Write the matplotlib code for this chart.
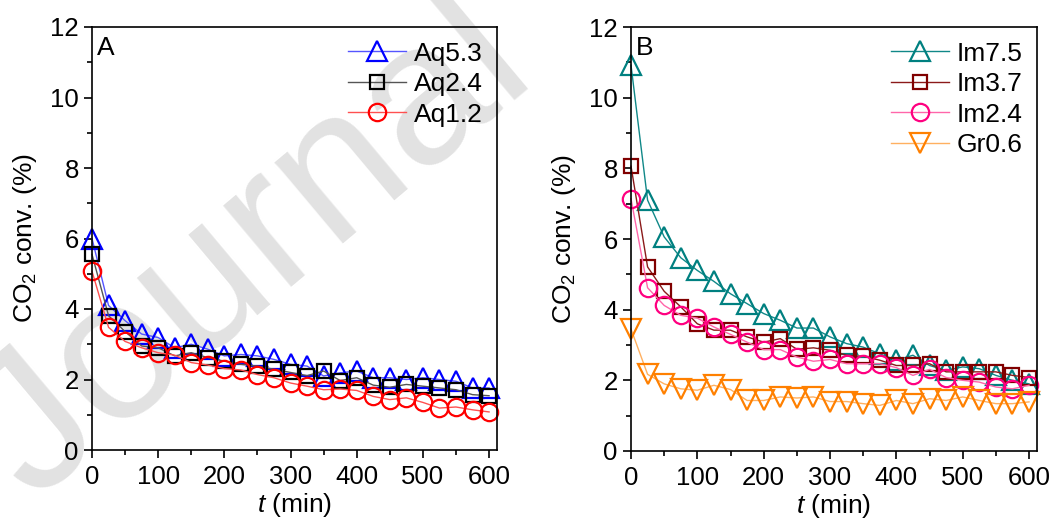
import matplotlib
matplotlib.use("Agg")
import matplotlib.pyplot as plt
from matplotlib.ticker import MultipleLocator

plt.rcParams['font.family'] = ['Liberation Sans', 'DejaVu Sans']
plt.rcParams['mathtext.fontset'] = 'custom'
plt.rcParams['mathtext.rm'] = 'Liberation Sans'
plt.rcParams['mathtext.it'] = 'Liberation Sans:italic'

t = [0, 25, 50, 75, 100, 125, 150, 175, 200, 225, 250, 275, 300,
     325, 350, 375, 400, 425, 450, 475, 500, 525, 550, 575, 600]

# panel A
aq53 = [6.0, 4.1, 3.67, 3.29, 3.19, 2.9, 3.0, 2.86, 2.67, 2.71, 2.67, 2.57, 2.43,
        2.38, 2.1, 2.19, 2.24, 2.05, 2.05, 2.0, 2.05, 2.0, 1.95, 1.76, 1.76]
aq24 = [5.55, 3.81, 3.36, 2.95, 2.9, 2.67, 2.76, 2.62, 2.52, 2.43, 2.38, 2.29, 2.2,
        2.11, 2.24, 1.97, 2.05, 1.84, 1.78, 1.86, 1.81, 1.76, 1.71, 1.57, 1.54]
aq12 = [5.07, 3.48, 3.08, 2.9, 2.76, 2.69, 2.48, 2.41, 2.31, 2.27, 2.14, 2.05, 1.9,
        1.81, 1.71, 1.73, 1.69, 1.52, 1.43, 1.48, 1.35, 1.19, 1.22, 1.14, 1.08]

# panel B
im75 = [10.92, 7.1, 6.06, 5.47, 5.11, 4.8, 4.45, 4.17, 3.89, 3.7, 3.48, 3.48, 3.23,
        3.04, 2.94, 2.75, 2.57, 2.71, 2.42, 2.28, 2.38, 2.33, 2.14, 2.0, 1.9]
im37 = [8.06, 5.21, 4.52, 4.08, 3.6, 3.42, 3.42, 3.23, 3.08, 3.18, 2.88, 2.92, 2.85,
        2.71, 2.68, 2.57, 2.42, 2.42, 2.47, 2.24, 2.24, 2.24, 2.24, 2.14, 2.08]
im24 = [7.14, 4.62, 4.12, 3.84, 3.76, 3.51, 3.3, 3.08, 2.87, 2.87, 2.66, 2.54, 2.59,
        2.47, 2.47, 2.47, 2.36, 2.14, 2.31, 2.08, 2.0, 1.95, 1.81, 1.76, 1.86]
gr06 = [3.45, 2.17, 1.9, 1.76, 1.72, 1.86, 1.74, 1.43, 1.43, 1.53, 1.5, 1.53, 1.4,
        1.4, 1.34, 1.29, 1.43, 1.34, 1.48, 1.43, 1.53, 1.43, 1.34, 1.34, 1.39]

fig = plt.figure(figsize=(10.54, 5.2), dpi=100)
ax1 = fig.add_axes([92/1054, 1-450/520, 405/1054, 423/520])
ax2 = fig.add_axes([631/1054, 1-451/520, 406/1054, 424/520])

# watermark
fig.text(0.24, 0.52, "Journal", fontsize=145, color='#e2e2e2', rotation=40,
         ha='center', va='center', zorder=-1)

def style(ax, label):
    ax.set_facecolor('none')
    ax.set_xlim(0, 612)
    ax.set_ylim(0, 12)
    ax.xaxis.set_major_locator(MultipleLocator(100))
    ax.xaxis.set_minor_locator(MultipleLocator(50))
    ax.yaxis.set_major_locator(MultipleLocator(2))
    ax.yaxis.set_minor_locator(MultipleLocator(1))
    ax.tick_params(which='major', direction='out', length=6, width=1.2, labelsize=18.5)
    ax.tick_params(axis='x', pad=5)
    ax.tick_params(which='minor', direction='out', length=3.5, width=1.2)
    for s in ax.spines.values():
        s.set_linewidth(1.2)
    ax.set_xlabel(r'$t$ (min)', fontsize=19, labelpad=1)
    ax.set_ylabel(r'CO$_2$ conv. (%)', fontsize=19, labelpad=8)
    ax.text(0.012, 0.978, label, transform=ax.transAxes, fontsize=19,
            ha='left', va='top')
    ax.legend(loc='upper right', frameon=False, fontsize=19, handlelength=2.2,
              handletextpad=0.3, labelspacing=0.25, borderaxespad=0.15)

mk = dict(markerfacecolor='none', markeredgewidth=1.6, lw=1, clip_on=False)
ax1.plot(t, aq53, marker='^', ms=14, color='#5555ff', mec='#0000ff', label='Aq5.3', **mk)
ax1.plot(t, aq24, marker='s', ms=10.5, color='#555555', mec='#000000', label='Aq2.4', **mk)
ax1.plot(t, aq12, marker='o', ms=12.5, color='#ff5050', mec='#ff0000', label='Aq1.2', **mk)
style(ax1, 'A')

ax2.plot(t, im75, marker='^', ms=14, color='#108888', mec='#008080', label='Im7.5', **mk)
ax2.plot(t, im37, marker='s', ms=10.5, color='#8b1a1a', mec='#800000', label='Im3.7', **mk)
ax2.plot(t, im24, marker='o', ms=12.5, color='#ff66aa', mec='#ff0080', label='Im2.4', **mk)
ax2.plot(t, gr06, marker='v', ms=14, color='#ffb060', mec='#ff8000', label='Gr0.6', **mk)
style(ax2, 'B')

fig.savefig('out.png', dpi=100)
